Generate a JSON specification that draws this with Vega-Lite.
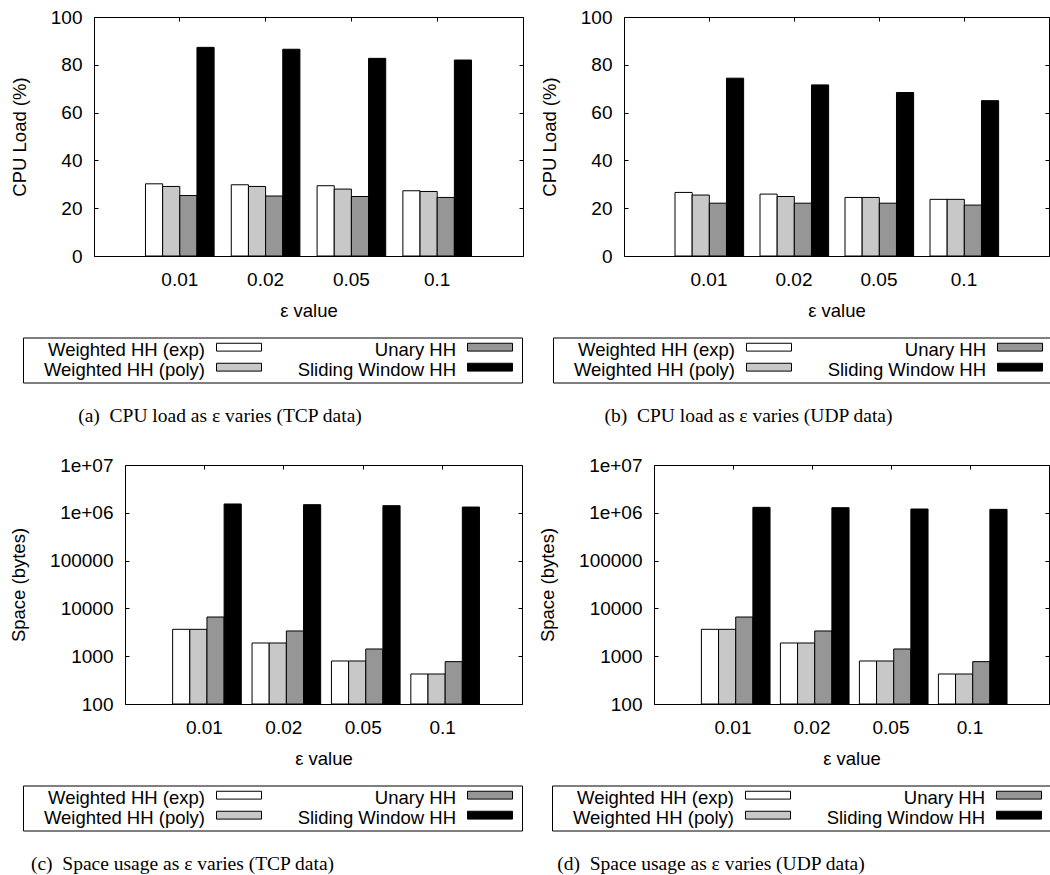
{
  "$schema": "https://vega.github.io/schema/vega-lite/v6.json",
  "background": "white",
  "padding": {"left": -7, "top": 7, "right": 0, "bottom": 0},
  "spacing": 29,
  "datasets": {
    "tcp_cpu": [
      {"eps": "0.01", "series": "Weighted HH (exp)", "value": 30.2},
      {"eps": "0.01", "series": "Weighted HH (poly)", "value": 29.1},
      {"eps": "0.01", "series": "Unary HH", "value": 25.3},
      {"eps": "0.01", "series": "Sliding Window HH", "value": 87.3},
      {"eps": "0.02", "series": "Weighted HH (exp)", "value": 29.8},
      {"eps": "0.02", "series": "Weighted HH (poly)", "value": 29.1},
      {"eps": "0.02", "series": "Unary HH", "value": 25.1},
      {"eps": "0.02", "series": "Sliding Window HH", "value": 86.5},
      {"eps": "0.05", "series": "Weighted HH (exp)", "value": 29.4},
      {"eps": "0.05", "series": "Weighted HH (poly)", "value": 28.0},
      {"eps": "0.05", "series": "Unary HH", "value": 24.9},
      {"eps": "0.05", "series": "Sliding Window HH", "value": 82.7},
      {"eps": "0.1", "series": "Weighted HH (exp)", "value": 27.3},
      {"eps": "0.1", "series": "Weighted HH (poly)", "value": 27.0},
      {"eps": "0.1", "series": "Unary HH", "value": 24.5},
      {"eps": "0.1", "series": "Sliding Window HH", "value": 82.0}
    ],
    "udp_cpu": [
      {"eps": "0.01", "series": "Weighted HH (exp)", "value": 26.6},
      {"eps": "0.01", "series": "Weighted HH (poly)", "value": 25.5},
      {"eps": "0.01", "series": "Unary HH", "value": 22.1},
      {"eps": "0.01", "series": "Sliding Window HH", "value": 74.4},
      {"eps": "0.02", "series": "Weighted HH (exp)", "value": 25.9},
      {"eps": "0.02", "series": "Weighted HH (poly)", "value": 24.9},
      {"eps": "0.02", "series": "Unary HH", "value": 22.1},
      {"eps": "0.02", "series": "Sliding Window HH", "value": 71.6},
      {"eps": "0.05", "series": "Weighted HH (exp)", "value": 24.5},
      {"eps": "0.05", "series": "Weighted HH (poly)", "value": 24.5},
      {"eps": "0.05", "series": "Unary HH", "value": 22.1},
      {"eps": "0.05", "series": "Sliding Window HH", "value": 68.4},
      {"eps": "0.1", "series": "Weighted HH (exp)", "value": 23.7},
      {"eps": "0.1", "series": "Weighted HH (poly)", "value": 23.7},
      {"eps": "0.1", "series": "Unary HH", "value": 21.3},
      {"eps": "0.1", "series": "Sliding Window HH", "value": 65.0}
    ],
    "tcp_space": [
      {"eps": "0.01", "series": "Weighted HH (exp)", "value": 3650},
      {"eps": "0.01", "series": "Weighted HH (poly)", "value": 3650},
      {"eps": "0.01", "series": "Unary HH", "value": 6600},
      {"eps": "0.01", "series": "Sliding Window HH", "value": 1530000},
      {"eps": "0.02", "series": "Weighted HH (exp)", "value": 1890},
      {"eps": "0.02", "series": "Weighted HH (poly)", "value": 1890},
      {"eps": "0.02", "series": "Unary HH", "value": 3370},
      {"eps": "0.02", "series": "Sliding Window HH", "value": 1480000},
      {"eps": "0.05", "series": "Weighted HH (exp)", "value": 794},
      {"eps": "0.05", "series": "Weighted HH (poly)", "value": 794},
      {"eps": "0.05", "series": "Unary HH", "value": 1415},
      {"eps": "0.05", "series": "Sliding Window HH", "value": 1410000},
      {"eps": "0.1", "series": "Weighted HH (exp)", "value": 424},
      {"eps": "0.1", "series": "Weighted HH (poly)", "value": 424},
      {"eps": "0.1", "series": "Unary HH", "value": 769},
      {"eps": "0.1", "series": "Sliding Window HH", "value": 1320000}
    ],
    "udp_space": [
      {"eps": "0.01", "series": "Weighted HH (exp)", "value": 3650},
      {"eps": "0.01", "series": "Weighted HH (poly)", "value": 3650},
      {"eps": "0.01", "series": "Unary HH", "value": 6600},
      {"eps": "0.01", "series": "Sliding Window HH", "value": 1300000},
      {"eps": "0.02", "series": "Weighted HH (exp)", "value": 1890},
      {"eps": "0.02", "series": "Weighted HH (poly)", "value": 1890},
      {"eps": "0.02", "series": "Unary HH", "value": 3370},
      {"eps": "0.02", "series": "Sliding Window HH", "value": 1280000},
      {"eps": "0.05", "series": "Weighted HH (exp)", "value": 794},
      {"eps": "0.05", "series": "Weighted HH (poly)", "value": 794},
      {"eps": "0.05", "series": "Unary HH", "value": 1415},
      {"eps": "0.05", "series": "Sliding Window HH", "value": 1200000},
      {"eps": "0.1", "series": "Weighted HH (exp)", "value": 424},
      {"eps": "0.1", "series": "Weighted HH (poly)", "value": 424},
      {"eps": "0.1", "series": "Unary HH", "value": 769},
      {"eps": "0.1", "series": "Sliding Window HH", "value": 1180000}
    ]
  },
  "vconcat": [
    {
      "spacing": 15,
      "resolve": {"scale": {"fill": "independent"}, "legend": {"fill": "independent"}},
      "hconcat": [
        {"width": 1, "height": 1, "data": {"values": []}, "mark": {"type": "point", "opacity": 0}, "view": {"stroke": null}},
        {
          "width": 429, "height": 239,
          "data": {"name": "tcp_cpu"},
          "title": {"text": "(a)\u00a0 CPU load as ε varies (TCP data)", "orient": "bottom", "anchor": "middle", "dx": -88.5, "offset": 24},
          "layer": [
            {
              "mark": {"type": "bar", "stroke": "black", "strokeWidth": 1},
              "encoding": {
                "x": {"field": "eps", "type": "nominal", "scale": {"domain": ["0.01", "0.02", "0.05", "0.1"], "paddingInner": 0.2, "paddingOuter": 0.6}, "axis": {"title": "ε value", "labelAngle": 0, "ticks": false, "labelPadding": 14, "titlePadding": 12}},
                "xOffset": {"field": "series", "type": "nominal", "scale": {"domain": ["Weighted HH (exp)", "Weighted HH (poly)", "Unary HH", "Sliding Window HH"], "paddingInner": 0, "paddingOuter": 0}},
                "y": {"field": "value", "type": "quantitative", "scale": {"domain": [0, 100], "nice": false}, "axis": {"title": "CPU Load (%)", "values": [0, 20, 40, 60, 80, 100], "tickSize": -4, "labelPadding": 16, "titlePadding": 20.8}},
                "fill": {"field": "series", "type": "nominal", "scale": {"domain": ["Weighted HH (exp)", "Weighted HH (poly)", "Unary HH", "Sliding Window HH"], "range": ["#ffffff", "#c8c8c8", "#969696", "#000000"]}, "legend": {"legendX": -71, "legendY": 320.5}}
              }
            },
            {
              "mark": {"type": "bar", "opacity": 0},
              "encoding": {
                "x": {"field": "eps", "type": "nominal", "axis": {"orient": "top", "labels": false, "title": null, "tickSize": -4}},
                "xOffset": {"field": "series", "type": "nominal"},
                "y": {"field": "value", "type": "quantitative", "axis": {"orient": "right", "labels": false, "title": null, "tickSize": -4, "values": [0, 20, 40, 60, 80, 100]}}
              }
            }
          ],
          "resolve": {"axis": {"x": "independent", "y": "independent"}}
        },
        {
          "width": 425, "height": 239,
          "data": {"name": "udp_cpu"},
          "title": {"text": "(b)\u00a0 CPU load as ε varies (UDP data)", "orient": "bottom", "anchor": "middle", "dx": -88, "offset": 24},
          "layer": [
            {
              "mark": {"type": "bar", "stroke": "black", "strokeWidth": 1},
              "encoding": {
                "x": {"field": "eps", "type": "nominal", "scale": {"domain": ["0.01", "0.02", "0.05", "0.1"], "paddingInner": 0.2, "paddingOuter": 0.6}, "axis": {"title": "ε value", "labelAngle": 0, "ticks": false, "labelPadding": 14, "titlePadding": 12}},
                "xOffset": {"field": "series", "type": "nominal", "scale": {"domain": ["Weighted HH (exp)", "Weighted HH (poly)", "Unary HH", "Sliding Window HH"], "paddingInner": 0, "paddingOuter": 0}},
                "y": {"field": "value", "type": "quantitative", "scale": {"domain": [0, 100], "nice": false}, "axis": {"title": "CPU Load (%)", "values": [0, 20, 40, 60, 80, 100], "tickSize": -4, "labelPadding": 16, "titlePadding": 20.8}},
                "fill": {"field": "series", "type": "nominal", "scale": {"domain": ["Weighted HH (exp)", "Weighted HH (poly)", "Unary HH", "Sliding Window HH"], "range": ["#ffffff", "#c8c8c8", "#969696", "#000000"]}, "legend": {"legendX": -71, "legendY": 320.5}}
              }
            },
            {
              "mark": {"type": "bar", "opacity": 0},
              "encoding": {
                "x": {"field": "eps", "type": "nominal", "axis": {"orient": "top", "labels": false, "title": null, "tickSize": -4}},
                "xOffset": {"field": "series", "type": "nominal"},
                "y": {"field": "value", "type": "quantitative", "axis": {"orient": "right", "labels": false, "title": null, "tickSize": -4, "values": [0, 20, 40, 60, 80, 100]}}
              }
            }
          ],
          "resolve": {"axis": {"x": "independent", "y": "independent"}}
        }
      ]
    },
    {
      "spacing": 15,
      "resolve": {"scale": {"fill": "independent"}, "legend": {"fill": "independent"}},
      "hconcat": [
        {"width": 1, "height": 1, "data": {"values": []}, "mark": {"type": "point", "opacity": 0}, "view": {"stroke": null}},
        {
          "width": 397, "height": 239,
          "data": {"name": "tcp_space"},
          "title": {"text": "(c)\u00a0 Space usage as ε varies (TCP data)", "orient": "bottom", "anchor": "middle", "dx": -141, "offset": 24},
          "layer": [
            {
              "mark": {"type": "bar", "stroke": "black", "strokeWidth": 1},
              "encoding": {
                "x": {"field": "eps", "type": "nominal", "scale": {"domain": ["0.01", "0.02", "0.05", "0.1"], "paddingInner": 0.2, "paddingOuter": 0.6}, "axis": {"title": "ε value", "labelAngle": 0, "ticks": false, "labelPadding": 14, "titlePadding": 12}},
                "xOffset": {"field": "series", "type": "nominal", "scale": {"domain": ["Weighted HH (exp)", "Weighted HH (poly)", "Unary HH", "Sliding Window HH"], "paddingInner": 0, "paddingOuter": 0}},
                "y": {"field": "value", "type": "quantitative", "scale": {"type": "log", "domain": [100, 10000000], "nice": false}, "axis": {"title": "Space (bytes)", "values": [100, 1000, 10000, 100000, 1000000, 10000000], "labelExpr": "datum.value >= 1000000 ? replace(format(datum.value, '.0e'), 'e+', 'e+0') : format(datum.value, 'd')", "tickSize": -4, "labelPadding": 16, "titlePadding": 20.8}},
                "y2": {"datum": 100},
                "fill": {"field": "series", "type": "nominal", "scale": {"domain": ["Weighted HH (exp)", "Weighted HH (poly)", "Unary HH", "Sliding Window HH"], "range": ["#ffffff", "#c8c8c8", "#969696", "#000000"]}, "legend": {"legendX": -102, "legendY": 320.5}}
              }
            },
            {
              "mark": {"type": "bar", "opacity": 0},
              "encoding": {
                "x": {"field": "eps", "type": "nominal", "axis": {"orient": "top", "labels": false, "title": null, "tickSize": -4}},
                "xOffset": {"field": "series", "type": "nominal"},
                "y": {"field": "value", "type": "quantitative", "axis": {"orient": "right", "labels": false, "title": null, "tickSize": -4, "values": [100, 1000, 10000, 100000, 1000000, 10000000]}},
                "y2": {"datum": 100}
              }
            }
          ],
          "resolve": {"axis": {"x": "independent", "y": "independent"}}
        },
        {
          "width": 395, "height": 239,
          "data": {"name": "udp_space"},
          "title": {"text": "(d)\u00a0 Space usage as ε varies (UDP data)", "orient": "bottom", "anchor": "middle", "dx": -140.5, "offset": 24},
          "layer": [
            {
              "mark": {"type": "bar", "stroke": "black", "strokeWidth": 1},
              "encoding": {
                "x": {"field": "eps", "type": "nominal", "scale": {"domain": ["0.01", "0.02", "0.05", "0.1"], "paddingInner": 0.2, "paddingOuter": 0.6}, "axis": {"title": "ε value", "labelAngle": 0, "ticks": false, "labelPadding": 14, "titlePadding": 12}},
                "xOffset": {"field": "series", "type": "nominal", "scale": {"domain": ["Weighted HH (exp)", "Weighted HH (poly)", "Unary HH", "Sliding Window HH"], "paddingInner": 0, "paddingOuter": 0}},
                "y": {"field": "value", "type": "quantitative", "scale": {"type": "log", "domain": [100, 10000000], "nice": false}, "axis": {"title": "Space (bytes)", "values": [100, 1000, 10000, 100000, 1000000, 10000000], "labelExpr": "datum.value >= 1000000 ? replace(format(datum.value, '.0e'), 'e+', 'e+0') : format(datum.value, 'd')", "tickSize": -4, "labelPadding": 16, "titlePadding": 20.8}},
                "y2": {"datum": 100},
                "fill": {"field": "series", "type": "nominal", "scale": {"domain": ["Weighted HH (exp)", "Weighted HH (poly)", "Unary HH", "Sliding Window HH"], "range": ["#ffffff", "#c8c8c8", "#969696", "#000000"]}, "legend": {"legendX": -102, "legendY": 320.5}}
              }
            },
            {
              "mark": {"type": "bar", "opacity": 0},
              "encoding": {
                "x": {"field": "eps", "type": "nominal", "axis": {"orient": "top", "labels": false, "title": null, "tickSize": -4}},
                "xOffset": {"field": "series", "type": "nominal"},
                "y": {"field": "value", "type": "quantitative", "axis": {"orient": "right", "labels": false, "title": null, "tickSize": -4, "values": [100, 1000, 10000, 100000, 1000000, 10000000]}},
                "y2": {"datum": 100}
              }
            }
          ],
          "resolve": {"axis": {"x": "independent", "y": "independent"}}
        }
      ]
    }
  ],
  "resolve": {"scale": {"fill": "independent"}, "legend": {"fill": "independent"}},
  "config": {
    "view": {"stroke": "black", "strokeWidth": 1},
    "axis": {
      "domain": false, "grid": false,
      "tickColor": "black", "tickWidth": 1,
      "labelFont": "Liberation Sans", "labelFontSize": 19, "labelColor": "black",
      "titleFont": "Liberation Sans", "titleFontSize": 18.5, "titleFontWeight": "normal", "titleColor": "black"
    },
    "legend": {
      "orient": "none",
      "title": null,
      "columns": 2,
      "columnPadding": 6,
      "rowPadding": 0,
      "padding": 3,
      "strokeColor": "black",
      "strokeWidth": 1,
      "fillColor": "white",
      "cornerRadius": 0,
      "symbolType": "M-2.5,-0.75L2.5,-0.75L2.5,0.122L-2.5,0.122Z M-23.667,-0.889 M3.0,0.778",
      "symbolSize": 324,
      "symbolOffset": 203.5,
      "symbolStrokeColor": "black",
      "symbolStrokeWidth": 1,
      "labelAlign": "right",
      "labelOffset": -43.5,
      "labelLimit": 400,
      "labelFont": "Liberation Sans",
      "labelFontSize": 18.5,
      "labelColor": "black"
    },
    "title": {
      "font": "Liberation Serif",
      "fontSize": 19.5,
      "fontWeight": "normal",
      "color": "black"
    }
  }
}
